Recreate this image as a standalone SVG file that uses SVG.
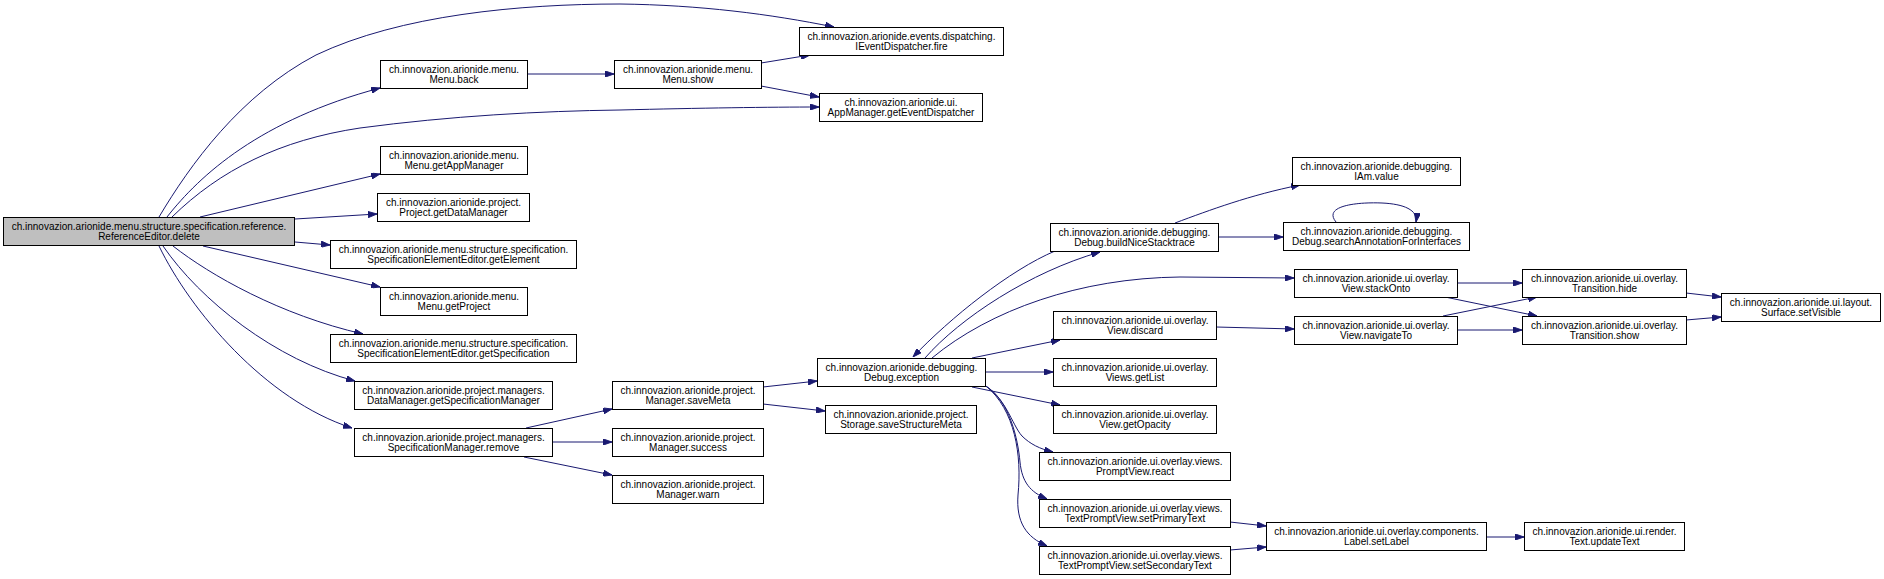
<svg xmlns="http://www.w3.org/2000/svg" width="1884" height="579" viewBox="0 0 1884 579">
<style>
.n rect{fill:#fff;stroke:#000;stroke-width:1}
.n.root rect{fill:#bfbfbf}
.n text{font-family:"Liberation Sans",Arial,Helvetica,sans-serif;font-size:10px;text-anchor:middle;fill:#000}
#edges path{fill:none;stroke:#191970;stroke-width:1;marker-end:url(#arr)}
</style>
<defs>
<marker id="arr" viewBox="0 0 10 7" markerWidth="9" markerHeight="6.3" refX="10" refY="3.5" orient="auto" markerUnits="userSpaceOnUse">
<path d="M0,0 L10,3.5 L0,7 z" fill="#191970" stroke="#191970"/>
</marker>
</defs>
<rect width="1884" height="579" fill="#fff"/>
<g id="edges">
<path d="M159,217 C190,165 240,95 316,55 C400,15 520,4 620,4 C700,5 770,14 834,27"/>
<path d="M167,217 C200,175 260,120 380,88"/>
<path d="M172,217 C220,170 280,140 360,128 C450,116 540,111 620,110 C700,108 770,107 819,107"/>
<path d="M200,217 L380,174"/>
<path d="M295,219 L377,214"/>
<path d="M295,242 L330,245"/>
<path d="M203,246 L380,287"/>
<path d="M173,246 C210,275 280,315 363,334"/>
<path d="M163,246 C200,300 275,360 355,381"/>
<path d="M159,246 C190,310 265,400 352,428"/>
<path d="M527,74 L614,74"/>
<path d="M761,63 L810,55"/>
<path d="M761,86 L819,97"/>
<path d="M526,428 L612,409"/>
<path d="M552,442 L612,442"/>
<path d="M524,457 L612,475"/>
<path d="M763,387 L817,381"/>
<path d="M763,404 L825,411"/>
<path d="M925,358 C960,318 1030,272 1100,252"/>
<path d="M1055,251 C1010,270 950,318 913,357"/>
<path d="M932,358 C990,310 1080,278 1180,277 L1294,278"/>
<path d="M1175,223 C1210,210 1250,195 1300,185"/>
<path d="M1218,237 L1283,237"/>
<path d="M1336,222 C1322,205 1360,202 1382,203 C1404,204 1418,210 1416,222"/>
<path d="M972,358 L1060,340"/>
<path d="M985,372 L1053,372"/>
<path d="M972,387 L1060,405"/>
<path d="M982,384 C1005,395 1012,425 1022,436 C1030,444 1040,449 1053,452"/>
<path d="M984,385 C1010,400 1018,440 1020,462 C1022,482 1030,492 1047,499"/>
<path d="M986,386 C1015,410 1022,455 1018,495 C1016,522 1026,537 1047,546"/>
<path d="M1216,327 L1294,329"/>
<path d="M1457,283 L1522,283"/>
<path d="M1445,297 L1537,316"/>
<path d="M1443,316 L1537,297"/>
<path d="M1457,330 L1522,330"/>
<path d="M1686,293 L1721,297"/>
<path d="M1686,320 L1721,317"/>
<path d="M1230,522 L1266,526"/>
<path d="M1230,550 L1266,547"/>
<path d="M1486,537 L1524,537"/>
</g>
<g id="n0" class="n root"><rect x="3.5" y="217.5" width="291" height="28"/><text x="149" y="230">ch.innovazion.arionide.menu.structure.specification.reference.</text><text x="149" y="240">ReferenceEditor.delete</text></g>
<g id="n1" class="n"><rect x="799.5" y="27.5" width="204" height="28"/><text x="901.5" y="40">ch.innovazion.arionide.events.dispatching.</text><text x="901.5" y="50">IEventDispatcher.fire</text></g>
<g id="n2" class="n"><rect x="380.5" y="60.5" width="147" height="28"/><text x="454" y="73">ch.innovazion.arionide.menu.</text><text x="454" y="83">Menu.back</text></g>
<g id="n3" class="n"><rect x="614.5" y="60.5" width="147" height="28"/><text x="688" y="73">ch.innovazion.arionide.menu.</text><text x="688" y="83">Menu.show</text></g>
<g id="n4" class="n"><rect x="819.5" y="93.5" width="163" height="28"/><text x="901" y="106">ch.innovazion.arionide.ui.</text><text x="901" y="116">AppManager.getEventDispatcher</text></g>
<g id="n5" class="n"><rect x="380.5" y="146.5" width="147" height="28"/><text x="454" y="159">ch.innovazion.arionide.menu.</text><text x="454" y="169">Menu.getAppManager</text></g>
<g id="n6" class="n"><rect x="377.5" y="193.5" width="152" height="28"/><text x="453.5" y="206">ch.innovazion.arionide.project.</text><text x="453.5" y="216">Project.getDataManager</text></g>
<g id="n7" class="n"><rect x="330.5" y="240.5" width="246" height="28"/><text x="453.5" y="253">ch.innovazion.arionide.menu.structure.specification.</text><text x="453.5" y="263">SpecificationElementEditor.getElement</text></g>
<g id="n8" class="n"><rect x="380.5" y="287.5" width="147" height="28"/><text x="454" y="300">ch.innovazion.arionide.menu.</text><text x="454" y="310">Menu.getProject</text></g>
<g id="n9" class="n"><rect x="330.5" y="334.5" width="246" height="28"/><text x="453.5" y="347">ch.innovazion.arionide.menu.structure.specification.</text><text x="453.5" y="357">SpecificationElementEditor.getSpecification</text></g>
<g id="n10" class="n"><rect x="354.5" y="381.5" width="198" height="28"/><text x="453.5" y="394">ch.innovazion.arionide.project.managers.</text><text x="453.5" y="404">DataManager.getSpecificationManager</text></g>
<g id="n11" class="n"><rect x="354.5" y="428.5" width="198" height="28"/><text x="453.5" y="441">ch.innovazion.arionide.project.managers.</text><text x="453.5" y="451">SpecificationManager.remove</text></g>
<g id="n12" class="n"><rect x="612.5" y="381.5" width="151" height="28"/><text x="688" y="394">ch.innovazion.arionide.project.</text><text x="688" y="404">Manager.saveMeta</text></g>
<g id="n13" class="n"><rect x="612.5" y="428.5" width="151" height="28"/><text x="688" y="441">ch.innovazion.arionide.project.</text><text x="688" y="451">Manager.success</text></g>
<g id="n14" class="n"><rect x="612.5" y="475.5" width="151" height="28"/><text x="688" y="488">ch.innovazion.arionide.project.</text><text x="688" y="498">Manager.warn</text></g>
<g id="n15" class="n"><rect x="817.5" y="358.5" width="168" height="28"/><text x="901.5" y="371">ch.innovazion.arionide.debugging.</text><text x="901.5" y="381">Debug.exception</text></g>
<g id="n16" class="n"><rect x="825.5" y="405.5" width="151" height="28"/><text x="901" y="418">ch.innovazion.arionide.project.</text><text x="901" y="428">Storage.saveStructureMeta</text></g>
<g id="n17" class="n"><rect x="1050.5" y="223.5" width="168" height="28"/><text x="1134.5" y="236">ch.innovazion.arionide.debugging.</text><text x="1134.5" y="246">Debug.buildNiceStacktrace</text></g>
<g id="n18" class="n"><rect x="1292.5" y="157.5" width="168" height="28"/><text x="1376.5" y="170">ch.innovazion.arionide.debugging.</text><text x="1376.5" y="180">IAm.value</text></g>
<g id="n19" class="n"><rect x="1283.5" y="222.5" width="186" height="28"/><text x="1376.5" y="235">ch.innovazion.arionide.debugging.</text><text x="1376.5" y="245">Debug.searchAnnotationForInterfaces</text></g>
<g id="n20" class="n"><rect x="1294.5" y="269.5" width="163" height="28"/><text x="1376" y="282">ch.innovazion.arionide.ui.overlay.</text><text x="1376" y="292">View.stackOnto</text></g>
<g id="n21" class="n"><rect x="1294.5" y="316.5" width="163" height="28"/><text x="1376" y="329">ch.innovazion.arionide.ui.overlay.</text><text x="1376" y="339">View.navigateTo</text></g>
<g id="n22" class="n"><rect x="1053.5" y="311.5" width="163" height="28"/><text x="1135" y="324">ch.innovazion.arionide.ui.overlay.</text><text x="1135" y="334">View.discard</text></g>
<g id="n23" class="n"><rect x="1053.5" y="358.5" width="163" height="28"/><text x="1135" y="371">ch.innovazion.arionide.ui.overlay.</text><text x="1135" y="381">Views.getList</text></g>
<g id="n24" class="n"><rect x="1053.5" y="405.5" width="163" height="28"/><text x="1135" y="418">ch.innovazion.arionide.ui.overlay.</text><text x="1135" y="428">View.getOpacity</text></g>
<g id="n25" class="n"><rect x="1039.5" y="452.5" width="191" height="28"/><text x="1135" y="465">ch.innovazion.arionide.ui.overlay.views.</text><text x="1135" y="475">PromptView.react</text></g>
<g id="n26" class="n"><rect x="1039.5" y="499.5" width="191" height="28"/><text x="1135" y="512">ch.innovazion.arionide.ui.overlay.views.</text><text x="1135" y="522">TextPromptView.setPrimaryText</text></g>
<g id="n27" class="n"><rect x="1039.5" y="546.5" width="191" height="28"/><text x="1135" y="559">ch.innovazion.arionide.ui.overlay.views.</text><text x="1135" y="569">TextPromptView.setSecondaryText</text></g>
<g id="n28" class="n"><rect x="1266.5" y="522.5" width="220" height="28"/><text x="1376.5" y="535">ch.innovazion.arionide.ui.overlay.components.</text><text x="1376.5" y="545">Label.setLabel</text></g>
<g id="n29" class="n"><rect x="1524.5" y="522.5" width="160" height="28"/><text x="1604.5" y="535">ch.innovazion.arionide.ui.render.</text><text x="1604.5" y="545">Text.updateText</text></g>
<g id="n30" class="n"><rect x="1522.5" y="269.5" width="164" height="28"/><text x="1604.5" y="282">ch.innovazion.arionide.ui.overlay.</text><text x="1604.5" y="292">Transition.hide</text></g>
<g id="n31" class="n"><rect x="1522.5" y="316.5" width="164" height="28"/><text x="1604.5" y="329">ch.innovazion.arionide.ui.overlay.</text><text x="1604.5" y="339">Transition.show</text></g>
<g id="n32" class="n"><rect x="1721.5" y="293.5" width="159" height="28"/><text x="1801" y="306">ch.innovazion.arionide.ui.layout.</text><text x="1801" y="316">Surface.setVisible</text></g>
</svg>
